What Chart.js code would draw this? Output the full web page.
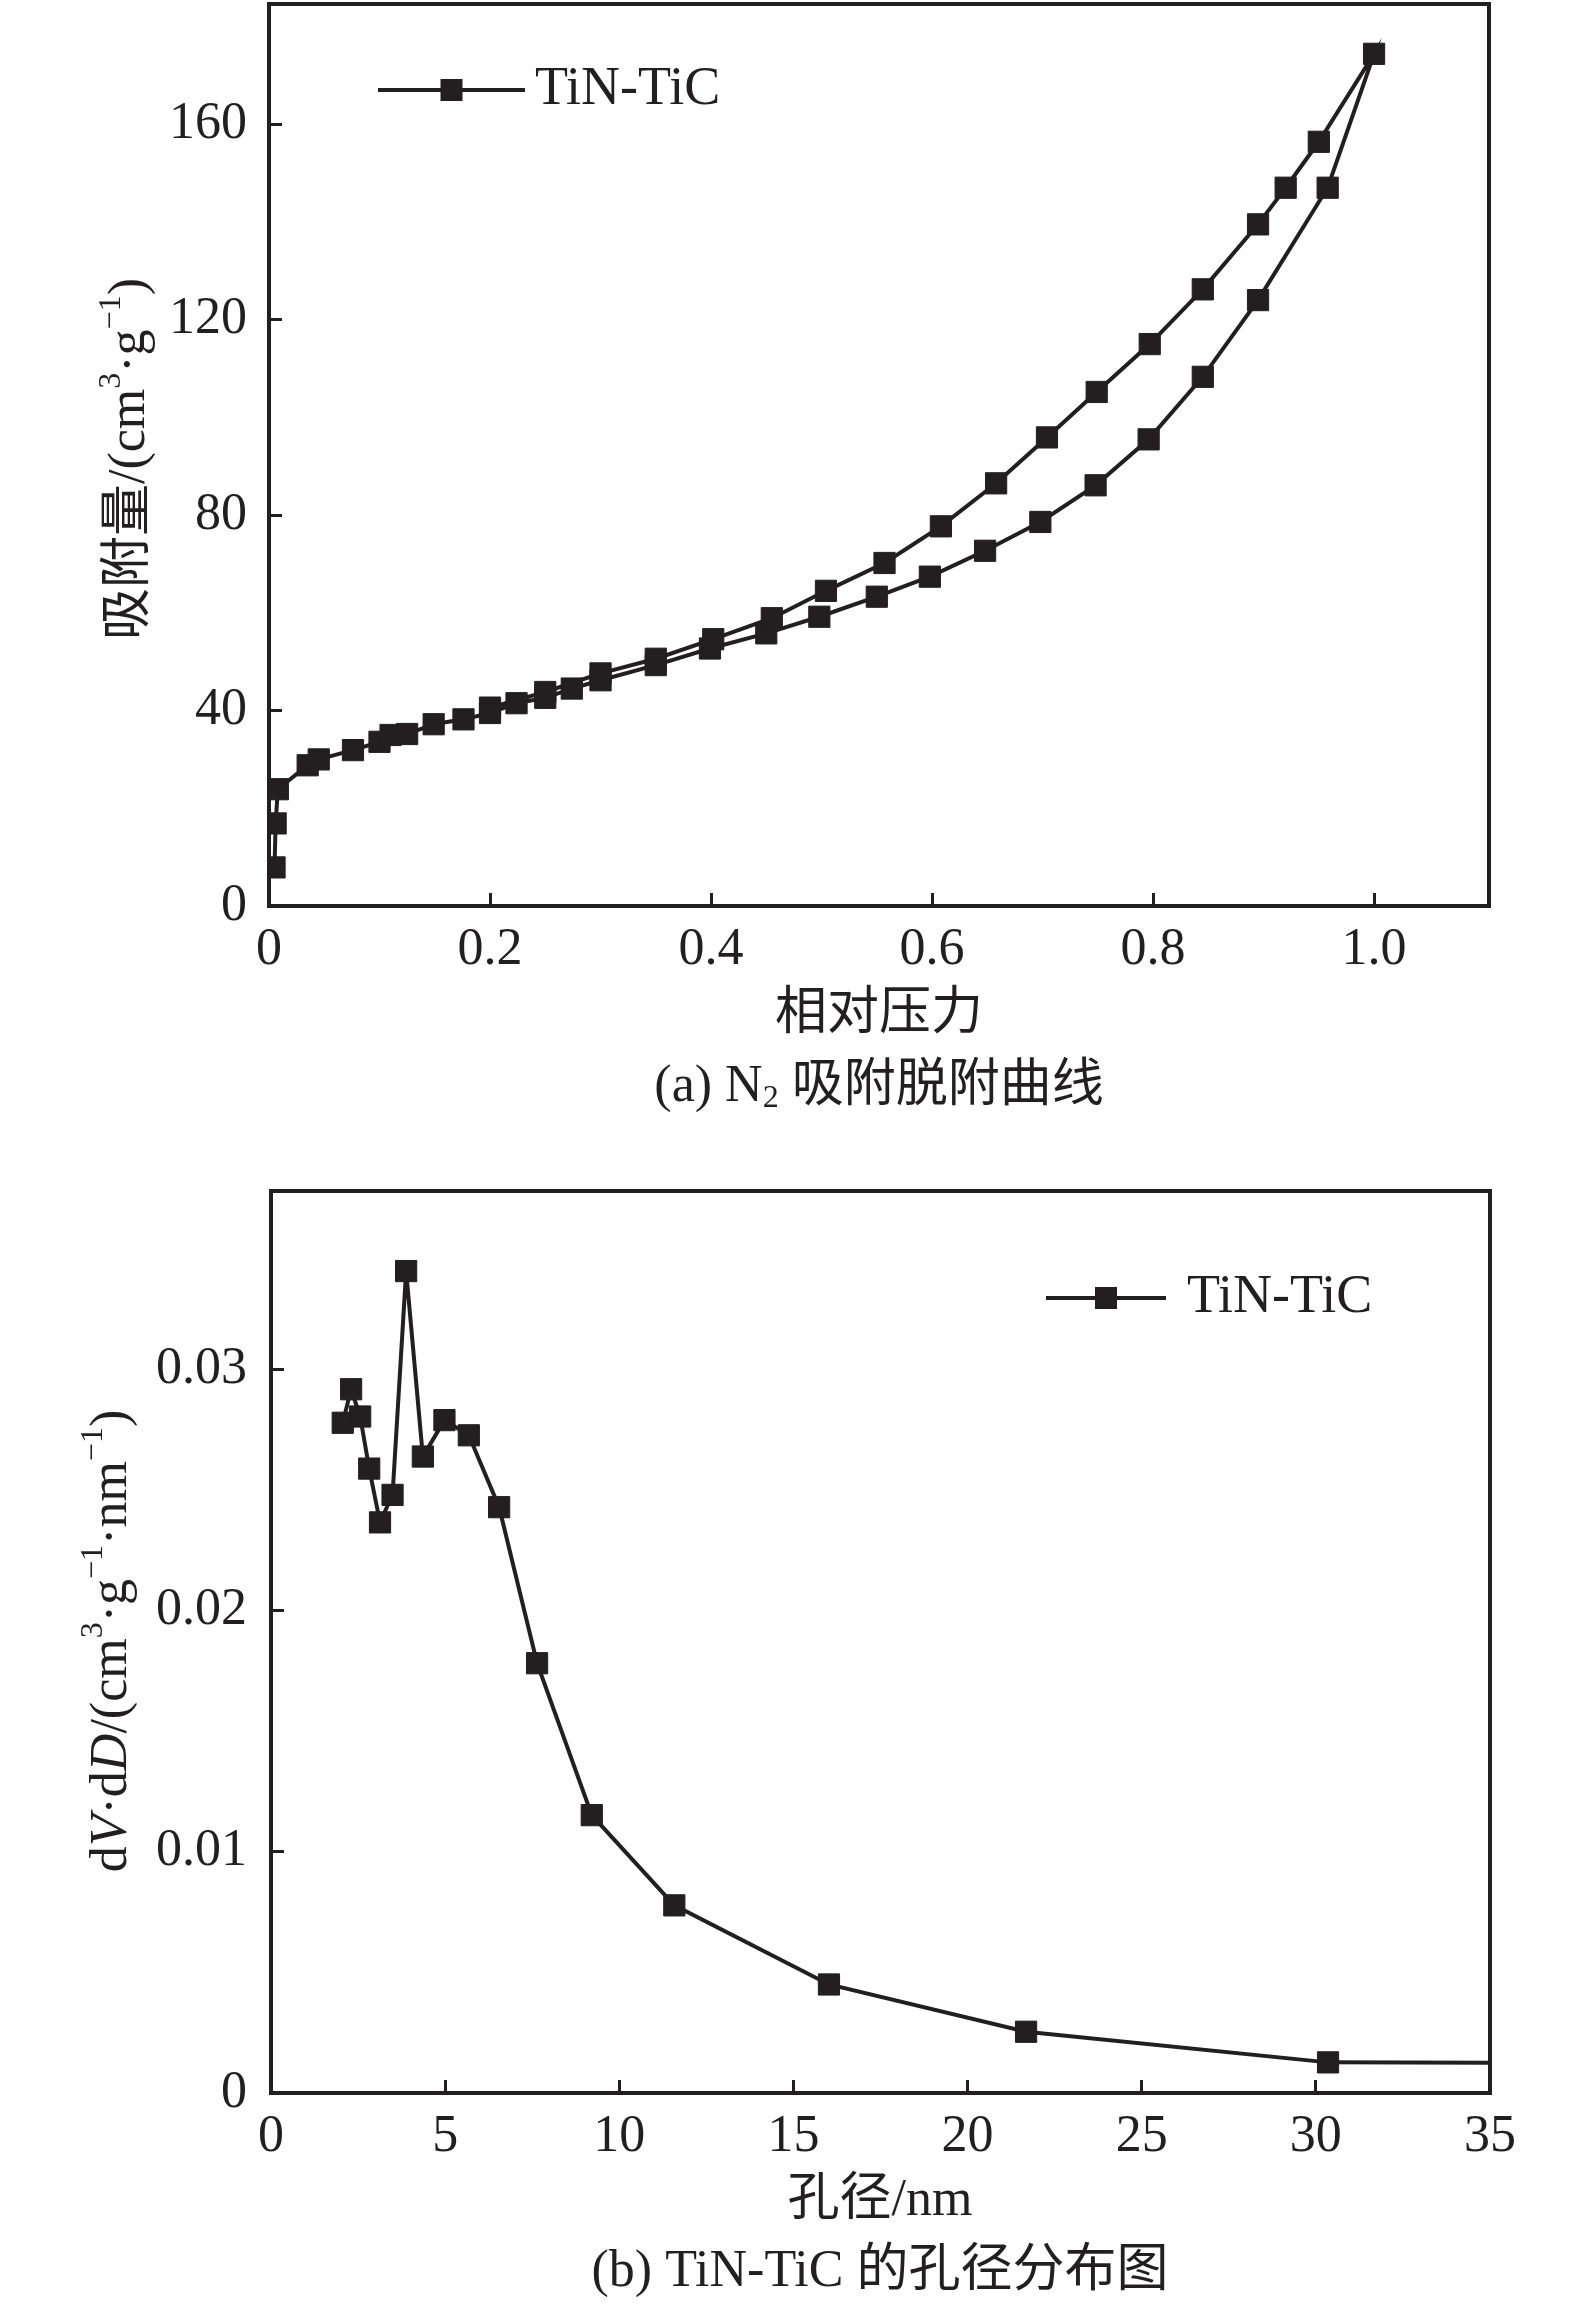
<!DOCTYPE html>
<html>
<head>
<meta charset="utf-8">
<script src="https://cdn.jsdelivr.net/npm/chart.js@4.4.1/dist/chart.umd.min.js"></script>
<style>
  body { margin: 0; background: #fff; }
  .panel { position: absolute; left: 0; width: 1575px; }
</style>
</head>
<body>
<div class="panel" style="top:0;height:1125px"><canvas id="isotherm" width="1575" height="1125"></canvas></div>
<div class="panel" style="top:1125px;height:1186px"><canvas id="poreDist" width="1575" height="1186"></canvas></div>
<script>
// (a) N2 adsorption (rising) then desorption (falling back), in measurement order
const relPressure = [
  0.005, 0.006, 0.008, 0.035, 0.045, 0.076, 0.100, 0.110, 0.125, 0.149,
  0.176, 0.200, 0.224, 0.250, 0.274, 0.300, 0.350, 0.399, 0.450, 0.498,
  0.550, 0.598, 0.648, 0.698, 0.748, 0.796, 0.845, 0.895, 0.958, 1.000,
  0.950, 0.920, 0.895, 0.845, 0.797, 0.749, 0.704, 0.658, 0.608, 0.557,
  0.504, 0.455, 0.402, 0.350, 0.300, 0.250, 0.200
];
const adsorbed = [
  7.9, 16.9, 23.9, 28.8, 30.0, 31.9, 33.6, 35.0, 35.2, 37.2,
  38.2, 39.5, 41.5, 42.6, 44.5, 46.2, 49.3, 52.7, 55.8, 59.2,
  63.3, 67.4, 72.7, 78.6, 86.1, 95.5, 108.3, 124.0, 147.0, 174.4,
  156.4, 147.0, 139.5, 126.2, 115.0, 105.2, 95.9, 86.5, 77.7, 70.2,
  64.5, 58.9, 54.6, 50.6, 47.6, 43.8, 40.6
];
const pressureTicks = [0, 0.2, 0.4, 0.6, 0.8, 1.0];
const pressureTickLabels = ['0', '0.2', '0.4', '0.6', '0.8', '1.0'];
const adsorbedTicks = [0, 40, 80, 120, 160];
const adsorbedTickLabels = ['0', '40', '80', '120', '160'];

// (b) pore size distribution
const poreSize = [
  2.06, 2.30, 2.56, 2.82, 3.13, 3.49, 3.88, 4.36, 4.98, 5.68,
  6.55, 7.64, 9.21, 11.58, 16.02, 21.68, 30.35, 37.0
];
const dVdD = [
  0.02779, 0.02918, 0.02805, 0.02589, 0.02366, 0.02480, 0.03408, 0.02639, 0.02790, 0.02727,
  0.02429, 0.01782, 0.01152, 0.00778, 0.00450, 0.00254, 0.00127, 0.00125
];
const poreTicks = [0, 5, 10, 15, 20, 25, 30, 35];
const poreTickLabels = ['0', '5', '10', '15', '20', '25', '30', '35'];
const dVdDTicks = [0, 0.01, 0.02, 0.03];
const dVdDTickLabels = ['0', '0.01', '0.02', '0.03'];

const seriesName = 'TiN-TiC';
const ink = '#231f20';
const serif = "'Liberation Serif', 'Noto Sans CJK SC'";

function drawRich(ctx, segs, x, y, size, rotate) {
  const fontOf = s => (s.it ? 'italic ' : '') + Math.round(s.sup || s.sub ? size * 0.62 : size) + 'px ' + serif;
  ctx.save();
  ctx.translate(x, y);
  if (rotate) ctx.rotate(-Math.PI / 2);
  ctx.fillStyle = ink;
  ctx.textBaseline = 'middle';
  ctx.textAlign = 'left';
  let total = 0;
  segs.forEach(s => { ctx.font = fontOf(s); total += ctx.measureText(s.t).width; });
  let cx = -total / 2;
  segs.forEach(s => {
    ctx.font = fontOf(s);
    const dy = s.sup ? -size * 0.36 : s.sub ? size * 0.22 : 0;
    ctx.fillText(s.t, cx, dy);
    cx += ctx.measureText(s.t).width;
  });
  ctx.restore();
}

const framePlugin = {
  id: 'frame',
  afterDraw(chart) {
    const {ctx, chartArea: a} = chart;
    ctx.save();
    ctx.strokeStyle = ink;
    ctx.lineWidth = 4;
    ctx.strokeRect(a.left, a.top, a.right - a.left, a.bottom - a.top);
    ctx.restore();
  }
};

const textPlugin = {
  id: 'texts',
  afterDraw(chart, args, opts) {
    opts.items.forEach(it => drawRich(chart.ctx, it.segs, it.x, it.y, it.size, it.rot));
  }
};

const legendPlugin = {
  id: 'lineLegend',
  afterDraw(chart, args, opts) {
    const ctx = chart.ctx;
    const mid = (opts.x1 + opts.x2) / 2;
    ctx.save();
    ctx.strokeStyle = ink;
    ctx.fillStyle = ink;
    ctx.lineWidth = 4;
    ctx.beginPath();
    ctx.moveTo(opts.x1, opts.y);
    ctx.lineTo(opts.x2, opts.y);
    ctx.stroke();
    ctx.fillRect(mid - 11, opts.y - 11, 22, 22);
    ctx.font = '54px ' + serif;
    ctx.textBaseline = 'middle';
    ctx.fillText(chart.data.datasets[0].label, opts.tx, opts.y);
    ctx.restore();
  }
};

function axis(min, max, ticks, labels, pad, fit) {
  return {
    type: 'linear',
    min: min,
    max: max,
    afterBuildTicks: s => { s.ticks = ticks.map(v => ({value: v})); },
    afterFit: s => {
      fit(s);
      // keep label overhang from pushing the plot area around
      s.paddingTop = s.paddingBottom = s.paddingLeft = s.paddingRight = 0;
    },
    border: {display: false},
    grid: {drawOnChartArea: false, drawTicks: true, tickLength: -13, lineWidth: 3, color: ink},
    ticks: {
      color: ink,
      padding: pad,
      maxRotation: 0,
      autoSkip: false,
      font: {family: serif, size: 52},
      callback: (v, i) => labels[i]
    }
  };
}

function makeChart(id, xs, ys, o) {
  const pts = xs.map((x, i) => ({x: x, y: ys[i]}));
  return new Chart(document.getElementById(id), {
    type: 'line',
    data: {
      datasets: [{
        label: seriesName,
        data: pts,
        borderColor: ink,
        backgroundColor: ink,
        borderWidth: 4,
        tension: 0,
        pointStyle: 'rect',
        pointRadius: 15,
        pointBorderWidth: 1,
        pointBorderColor: ink,
        pointBackgroundColor: ink
      }]
    },
    options: {
      responsive: false,
      animation: false,
      devicePixelRatio: 1,
      layout: {autoPadding: false, padding: {left: 0, top: o.top, right: 1575 - o.right, bottom: 0}},
      scales: {
        x: axis(o.xmin, o.xmax, o.xt, o.xl, 26, s => { s.height = o.h - o.bottom; }),
        y: axis(o.ymin, o.ymax, o.yt, o.yl, 35 + (o.left - 269), s => { s.width = o.left; })
      },
      plugins: {
        legend: {display: false},
        tooltip: {enabled: false},
        lineLegend: o.legend,
        texts: {items: o.texts}
      }
    },
    plugins: [framePlugin, textPlugin, legendPlugin]
  });
}

makeChart('isotherm', relPressure, adsorbed, {
  h: 1125, left: 269, right: 1489, top: 4, bottom: 906,
  xmin: 0, xmax: 1.104, xt: pressureTicks, xl: pressureTickLabels,
  ymin: 0, ymax: 184.6, yt: adsorbedTicks, yl: adsorbedTickLabels,
  legend: {x1: 378, x2: 525, y: 90, tx: 535},
  texts: [
    {segs: [{t: '吸附量/(cm'}, {t: '3', sup: 1}, {t: '·g'}, {t: '−1', sup: 1}, {t: ')'}], x: 130, y: 459, size: 52, rot: true},
    {segs: [{t: '相对压力'}], x: 879, y: 1015, size: 52},
    {segs: [{t: '(a) N'}, {t: '2', sub: 1}, {t: ' 吸附脱附曲线'}], x: 879, y: 1087, size: 52}
  ]
});

makeChart('poreDist', poreSize, dVdD, {
  h: 1186, left: 271, right: 1490, top: 66, bottom: 968,
  xmin: 0, xmax: 35, xt: poreTicks, xl: poreTickLabels,
  ymin: 0, ymax: 0.0374, yt: dVdDTicks, yl: dVdDTickLabels,
  legend: {x1: 1046, x2: 1166, y: 173, tx: 1187},
  texts: [
    {segs: [{t: 'd'}, {t: 'V', it: 1}, {t: '·d'}, {t: 'D', it: 1}, {t: '/(cm'}, {t: '3', sup: 1}, {t: '·g'}, {t: '−1', sup: 1}, {t: '·nm'}, {t: '−1', sup: 1}, {t: ')'}], x: 112, y: 516, size: 52, rot: true},
    {segs: [{t: '孔径/nm'}], x: 880, y: 1076, size: 52},
    {segs: [{t: '(b) TiN-TiC 的孔径分布图'}], x: 880, y: 1147, size: 52}
  ]
});
</script>
</body>
</html>
